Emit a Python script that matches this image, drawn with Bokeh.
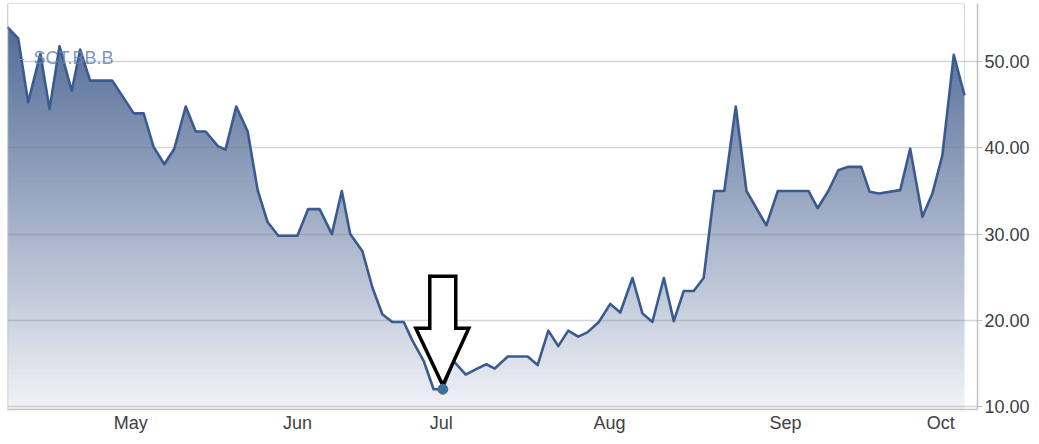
import numpy as np
from bokeh.plotting import figure
from bokeh.models import FixedTicker, Range1d, Span, Label, NumeralTickFormatter
from bokeh.embed import file_html
from bokeh.resources import INLINE

# Daily closing prices, positioned by trading session
session = [0.0, 1.4, 2.7, 4.3, 5.5, 6.8, 8.4, 9.5, 10.8, 13.7, 16.5, 17.8, 19.1, 20.5,
           21.8, 23.3, 24.6, 25.9, 27.5, 28.5, 29.9, 31.4, 32.7, 34.0, 35.4, 37.9, 39.3,
           40.8, 42.4, 43.7, 44.8, 46.4, 47.7, 49.0, 50.3, 51.8, 52.9, 54.4, 55.7, 56.9,
           58.3, 59.9, 61.4, 62.6, 63.7, 65.4, 68.0, 69.3, 70.7, 72.0, 73.3, 74.6, 75.8,
           77.3, 78.8, 80.1, 81.7, 83.0, 84.3, 85.8, 87.1, 88.4, 89.7, 91.0, 92.4, 93.7,
           95.2, 96.6, 99.2, 100.7, 104.7, 105.9, 107.3, 108.6, 109.9, 111.6, 112.7, 113.9,
           116.7, 118.0, 119.6, 120.9, 122.2, 123.7, 125.1]
price = [54.0, 52.7, 45.3, 50.9, 44.5, 51.8, 46.6, 51.4, 47.8, 47.8, 44.0, 44.0, 40.1, 38.1,
         39.9, 44.8, 41.9, 41.9, 40.2, 39.8, 44.8, 41.9, 35.1, 31.4, 29.8, 29.8, 32.9,
         32.9, 30.0, 35.0, 30.0, 28.0, 23.8, 20.7, 19.8, 19.8, 17.7, 15.3, 12.0, 12.0,
         15.3, 13.7, 14.4, 14.9, 14.4, 15.8, 15.8, 14.8, 18.8, 17.0, 18.8, 18.1, 18.6,
         19.8, 21.9, 20.9, 24.9, 20.8, 19.8, 24.9, 19.9, 23.4, 23.4, 24.9, 35.0, 35.0,
         44.8, 35.0, 31.0, 35.0, 35.0, 33.0, 35.0, 37.4, 37.8, 37.8, 34.9, 34.7,
         35.1, 39.9, 32.0, 34.7, 39.1, 50.8, 46.1]

month_pos = [16.1, 37.9, 56.7, 78.7, 101.7, 122.0]
month_names = ["May", "Jun", "Jul", "Aug", "Sep", "Oct"]
price_ticks = [10, 20, 30, 40, 50]
series_name = "SCT.BB.B"

X0, X1 = 0.0, 126.8
Y0, Y1 = 9.65, 56.75
FRAME_W, FRAME_H = 970, 406

p = figure(width=1039, height=444, output_backend="svg", toolbar_location=None,
           x_range=Range1d(X0, X1), y_range=Range1d(Y0, Y1),
           y_axis_location="right",
           min_border_left=7, min_border_right=62, min_border_top=3, min_border_bottom=35)
p.outline_line_color = None
p.background_fill_color = "white"
p.border_fill_color = "white"

# vertical gradient behind the area, later masked above the price line
N = 256
img = np.empty((N, 1), dtype=np.uint32)
view = img.view(dtype=np.uint8).reshape((N, 1, 4))
top = np.array([74, 100, 146], dtype=float)
bottom = np.array([241, 243, 247], dtype=float)
t = np.linspace(0.0, 1.0, N)[:, None]
rgb = bottom * (1 - t) + top * t
view[:, 0, 0] = rgb[:, 0].astype(np.uint8)
view[:, 0, 1] = rgb[:, 1].astype(np.uint8)
view[:, 0, 2] = rgb[:, 2].astype(np.uint8)
view[:, 0, 3] = 255
p.image_rgba(image=[img], x=session[0], y=Y0, dw=session[-1] - session[0], dh=Y1 - Y0)

# white mask above the line
p.varea(x=session, y1=price, y2=Y1, fill_color="white")

# grid lines drawn over the fill
p.xgrid.visible = False
p.ygrid.ticker = FixedTicker(ticks=price_ticks)
p.ygrid.grid_line_color = "#808080"
p.ygrid.grid_line_alpha = 0.33
p.ygrid.grid_line_width = 1.6
p.ygrid.level = "guide"

p.line(session, price, line_color="#3a5b90", line_width=2.6, line_join="round",
       level="annotation")

# arrow pointing at the lowest close
i_low = len(price) - 1 - price[::-1].index(min(price))
sx = FRAME_W / (X1 - X0)
sy = FRAME_H / (Y1 - Y0)
tip_x, tip_y = session[i_low], price[i_low] + 4 / sy
shape_px = [(0, 0), (26, 57), (13, 57), (13, 109), (-13, 109), (-13, 57), (-27, 57)]
p.patch([tip_x + dx / sx for dx, dy in shape_px],
        [tip_y + dy / sy for dx, dy in shape_px],
        fill_color="white", line_color="black", line_width=3.5, line_join="miter",
        level="annotation")

p.scatter([session[i_low]], [price[i_low]], size=10, fill_color="#3d7196",
          line_color="#3d7196", level="annotation")

# left frame edge
p.add_layout(Span(location=X0, dimension="height", line_color="#c4c4c4", line_width=1.5))

# series label
p.add_layout(Label(x=10, y=351, x_units="screen", y_units="screen", text="–",
                   text_color="#6d8db8", text_alpha=0.8, text_font_size="12px",
                   text_baseline="middle", text_font="Liberation Sans"))
p.add_layout(Label(x=26, y=352, x_units="screen", y_units="screen", text=series_name,
                   text_color="#6484b0", text_alpha=0.85, text_font_size="18px",
                   text_baseline="middle", text_font="Liberation Sans"))

# axes
p.yaxis.ticker = FixedTicker(ticks=price_ticks)
p.yaxis.formatter = NumeralTickFormatter(format="0.00")
p.yaxis.major_tick_out = 5
p.yaxis.major_tick_in = 0
p.yaxis.minor_tick_line_color = None
p.yaxis.axis_line_color = "#c4c4c4"
p.yaxis.axis_line_width = 1.5
p.yaxis.major_tick_line_color = "#c4c4c4"
p.yaxis.major_label_text_font = "Liberation Sans"
p.yaxis.major_label_text_font_size = "18px"
p.yaxis.major_label_text_color = "#404040"
p.yaxis.major_label_standoff = 2

p.xaxis.ticker = FixedTicker(ticks=month_pos)
p.xaxis.major_label_overrides = {pos: name for pos, name in zip(month_pos, month_names)}
p.xaxis.major_tick_out = 0
p.xaxis.major_tick_in = 0
p.xaxis.minor_tick_line_color = None
p.xaxis.axis_line_color = "#c4c4c4"
p.xaxis.axis_line_width = 1.5
p.xaxis.major_label_text_font = "Liberation Sans"
p.xaxis.major_label_text_font_size = "18px"
p.xaxis.major_label_text_color = "#404040"
p.xaxis.major_label_standoff = 3

open("out.html", "w").write(file_html(p, INLINE))
